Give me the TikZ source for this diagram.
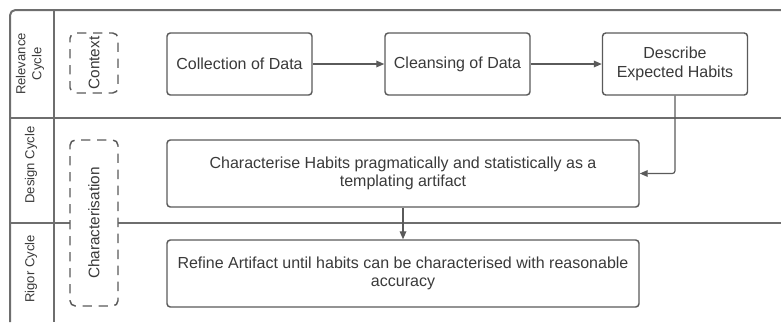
\documentclass[tikz,border=0pt]{standalone}
\usepackage{fontspec}
\setmainfont{Liberation Sans}
\usetikzlibrary{arrows.meta}
\definecolor{laneline}{HTML}{6E6E6E}
\definecolor{boxline}{HTML}{5A5A5A}
\definecolor{ink}{HTML}{3A3A3A}
\begin{document}
\begin{tikzpicture}[x=0.75pt,y=-0.75pt,
  lane/.style={draw=laneline,line width=1.5pt},
  procbox/.style={draw=boxline,line width=1.1pt,rounded corners=2.5pt,fill=white,
    text=ink,align=center,inner sep=0pt,font=\fontsize{12}{14}\selectfont},
  stepsmall/.style={procbox,minimum width=108.75pt,minimum height=46.5pt},
  stepwide/.style={procbox,minimum width=354pt,minimum height=50.25pt},
  groupbox/.style={draw=boxline,line width=1.1pt,rounded corners=4pt,fill=white,
    dash pattern=on 7pt off 5pt,dash phase=4pt},
  grouplabel/.style={text=ink,rotate=90,font=\fontsize{11.5}{13}\selectfont},
  lanelabel/.style={text=ink,rotate=90,align=center,font=\fontsize{9.8}{12}\selectfont},
  flow/.style={draw=boxline,line width=0.9pt,-{Triangle[length=6pt,width=5pt]}}]
\useasboundingbox (0,0) rectangle (781,322);

% swimlane frame
\draw[lane,rounded corners=4pt] (10,322) -- (10,10) -- (781,10);
\draw[lane] (54,10) -- (54,322);
\draw[lane] (10,118) -- (781,118);
\draw[lane] (10,223) -- (781,223);

% lane headers
\node[lanelabel] (hrel) at (30,64) {Relevance\\Cycle};
\node[lanelabel] (hdes) at (31,165) {Design Cycle};
\node[lanelabel] (hrig) at (31,269) {Rigor Cycle};

% dashed grouping boxes
\path[groupbox] (70,33) rectangle (118,93);
\node[grouplabel] (ctx) at (94,63) {Context};
\path[groupbox] (70,140) rectangle (118,306);
\node[grouplabel] (chr) at (94,223) {Characterisation};

% process steps
\node[stepsmall] (collect) at (239.5,64) {Collection of Data};
\node[stepsmall] (cleanse) at (457.5,64) {Cleansing of Data};
\node[stepsmall] (describe) at (675,64) {Describe\\Expected Habits};
\node[stepwide] (charact) at (403,173.5)
  {Characterise Habits pragmatically and statistically as a\\templating artifact};
\node[stepwide] (refine) at (403,273.5)
  {Refine Artifact until habits can be characterised with reasonable\\accuracy};

% connectors
\draw[flow] (collect) -- (cleanse);
\draw[flow] (cleanse) -- (describe);
\draw[flow,rounded corners=2pt] (describe.south) |- (charact.east);
\draw[flow] (charact) -- (refine);
\end{tikzpicture}
\end{document}
